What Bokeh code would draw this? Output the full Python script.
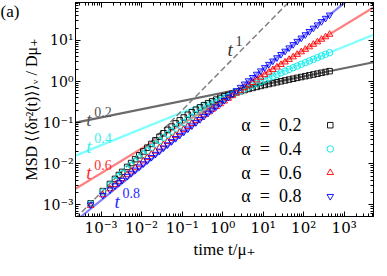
from bokeh.plotting import figure
from bokeh.models import FixedTicker, CustomJSTickFormatter, LogAxis, Label, Range1d
from bokeh.core.properties import value
from bokeh.embed import file_html
from bokeh.resources import INLINE

# ---- data ----
time = [5.5e-4, 1.1e-3, 1.65e-3, 2.2e-3, 2.75e-3, 3.3e-3, 4.4e-3,
        0.0055, 0.00692, 0.00872, 0.01097, 0.01382, 0.01739, 0.0219, 0.02757, 0.0347, 0.04369,
        0.055, 0.0692, 0.0872, 0.1097, 0.1382, 0.1739, 0.219, 0.2757, 0.347, 0.4369,
        0.55, 0.692, 0.872, 1.097, 1.382, 1.739, 2.19, 2.757, 3.47, 4.369,
        5.5, 6.92, 8.72, 10.97, 13.82, 17.39, 21.9, 27.57, 34.7, 43.69,
        55.0, 69.2, 87.2, 109.7, 138.2, 173.9, 219.0, 275.7, 347.0, 436.9]

msd_a02 = [1.09e-3, 2.16e-3, 3.22e-3, 4.28e-3, 5.32e-3, 6.34e-3, 8.38e-3,
           0.01038, 0.01294, 0.01607, 0.0199, 0.0246, 0.0303, 0.0372, 0.0454, 0.0552, 0.0668,
           0.0804, 0.0959, 0.1138, 0.1337, 0.156, 0.1795, 0.2065, 0.2355, 0.266, 0.298,
           0.330, 0.364, 0.399, 0.435, 0.471, 0.507, 0.545, 0.583, 0.622, 0.662,
           0.700, 0.741, 0.783, 0.826, 0.871, 0.916, 0.964, 1.014, 1.064, 1.117,
           1.172, 1.230, 1.291, 1.352, 1.419, 1.486, 1.557, 1.633, 1.710, 1.791]

msd_a04 = [1.047e-3, 2.05e-3, 3.01e-3, 3.95e-3, 4.86e-3, 5.75e-3, 7.50e-3,
           9.18e-3, 0.0113, 0.01384, 0.0169, 0.0206, 0.0249, 0.0301, 0.0363, 0.0436, 0.0519,
           0.0617, 0.0728, 0.0855, 0.1000, 0.1172, 0.1355, 0.1567, 0.1799, 0.2056, 0.2344,
           0.2661, 0.3013, 0.3396, 0.3828, 0.4295, 0.4797, 0.5358, 0.597, 0.6653, 0.7379,
           0.8166, 0.9036, 1.000, 1.104, 1.219, 1.346, 1.483, 1.633, 1.795, 1.977,
           2.173, 2.388, 2.624, 2.884, 3.170, 3.483, 3.819, 4.198, 4.603, 5.058]

msd_a06 = [9.6e-4, 1.74e-3, 2.44e-3, 3.08e-3, 3.71e-3, 4.31e-3, 5.49e-3,
           6.6e-3, 7.94e-3, 9.62e-3, 0.01161, 0.0140, 0.01683, 0.0201, 0.0242, 0.0289, 0.0344,
           0.0410, 0.0486, 0.0577, 0.0681, 0.0804, 0.0946, 0.1112, 0.1306, 0.1531, 0.1795,
           0.2099, 0.2449, 0.2858, 0.3334, 0.3873, 0.4508, 0.5236, 0.6081, 0.7047, 0.8166,
           0.9441, 1.091, 1.262, 1.459, 1.687, 1.945, 2.244, 2.588, 2.985, 3.436,
           3.963, 4.560, 5.260, 6.053, 6.966, 8.017, 9.226, 10.62, 12.19, 14.03]

msd_a08 = [1.005e-3, 1.714e-3, 2.339e-3, 2.917e-3, 3.467e-3, 3.99e-3, 4.977e-3,
           5.906e-3, 7.053e-3, 8.418e-3, 0.01005, 0.0120, 0.01432, 0.0171, 0.02041, 0.02436, 0.02909,
           0.03473, 0.04145, 0.04949, 0.05908, 0.07054, 0.0842, 0.1005, 0.1200, 0.1433, 0.1710,
           0.2042, 0.2437, 0.2910, 0.3483, 0.4188, 0.5035, 0.6053, 0.7278, 0.8750, 1.052,
           1.265, 1.521, 1.828, 2.198, 2.642, 3.177, 3.819, 4.592, 5.521, 6.637,
           7.980, 9.594, 11.53, 13.87, 16.67, 20.04, 24.10, 28.97, 34.83, 41.88]

alphas = [0.2, 0.4, 0.6, 0.8]
alpha_labels = ["0.2", "0.4", "0.6", "0.8"]
asym_coef = [0.532, 0.447, 0.372, 0.324]   # long-time power-law prefactors
ballistic_coef = 2.0                        # short-time line 2 t

x_ticks = [1e-3, 1e-2, 1e-1, 1e0, 1e1, 1e2, 1e3]
y_ticks = [1e-3, 1e-2, 1e-1, 1e0, 1e1]

XMIN, XMAX = 2.33e-4, 5.3e3
YMIN, YMAX = 5.2e-4, 84.0

FONT = "Liberation Serif, DejaVu Serif"
FRAME_W, FRAME_H = 298, 214

p = figure(frame_width=FRAME_W, frame_height=FRAME_H, x_axis_type="log", y_axis_type="log",
           x_range=Range1d(XMIN, XMAX), y_range=Range1d(YMIN, YMAX),
           output_backend="svg", toolbar_location=None,
           min_border_left=0, min_border_right=2, min_border_top=2, min_border_bottom=38)
p.grid.visible = False
p.outline_line_color = "black"
p.outline_line_width = 1
p.background_fill_color = "white"
p.border_fill_color = "white"

fmt = CustomJSTickFormatter(code="""
const e = Math.round(Math.log10(tick));
const sup = {'-':'\u207b','0':'\u2070','1':'\u00b9','2':'\u00b2','3':'\u00b3','4':'\u2074',
             '5':'\u2075','6':'\u2076','7':'\u2077','8':'\u2078','9':'\u2079'};
return '10' + String(e).split('').map(c => sup[c]).join('');
""")
blank = CustomJSTickFormatter(code="return '';")

x_minor = [m * 10.0**k for k in range(-4, 4) for m in range(2, 10)]
y_minor = [m * 10.0**k for k in range(-4, 2) for m in range(2, 10)]

def style(ax):
    ax.major_tick_in = 5
    ax.major_tick_out = 0
    ax.minor_tick_in = 3
    ax.minor_tick_out = 0
    ax.axis_line_color = "black"
    ax.major_tick_line_color = "black"
    ax.minor_tick_line_color = "black"
    ax.major_label_text_font = "DejaVu Serif"
    ax.major_label_text_font_size = "15px"
    ax.major_label_text_color = "black"
    ax.axis_label_text_font = FONT
    ax.axis_label_text_font_size = "17px"
    ax.axis_label_text_font_style = "normal"
    ax.axis_label_text_color = "black"

xax = p.xaxis[0]
xax.ticker = FixedTicker(ticks=x_ticks, minor_ticks=x_minor)
xax.formatter = fmt
xax.axis_label = "time t/\u03bc\u208a"
style(xax)
xax.major_label_standoff = 2
xax.axis_label_standoff = 0

yax = p.yaxis[0]
yax.ticker = FixedTicker(ticks=y_ticks, minor_ticks=y_minor)
yax.formatter = fmt
yax.axis_label = "MSD \u27e8\u27e8\u03b4r\u00b2(t)\u27e9\u27e9\u1d65 / D\u03bc\u208a"
style(yax)
yax.major_label_text_font_size = "14px"
yax.axis_label_text_font_size = "16px"
yax.major_label_standoff = 2
yax.axis_label_standoff = 0

top = LogAxis(ticker=FixedTicker(ticks=x_ticks, minor_ticks=x_minor), formatter=blank)
right = LogAxis(ticker=FixedTicker(ticks=y_ticks, minor_ticks=y_minor), formatter=blank)
for ax in (top, right):
    style(ax)
    ax.major_label_text_font_size = "0px"
    ax.major_label_standoff = 0
    ax.axis_label_standoff = 0
p.add_layout(top, "above")
p.add_layout(right, "right")

# ---- reference power-law lines ----
line_colors = ["#6a6a6a", "#80ffff", "#ff8080", "#8080ff"]
line_x = [XMIN, XMAX]
for a, c, col in zip(alphas, asym_coef, line_colors):
    p.line(line_x, [c * x**a for x in line_x], line_color=col, line_width=2.2)
p.line(line_x, [ballistic_coef * x for x in line_x], line_color="#808080",
       line_width=1.5, line_dash="6 3")

# ---- data markers ----
series = [msd_a02, msd_a04, msd_a06, msd_a08]
markers = ["square", "circle", "triangle", "inverted_triangle"]
mcolors = ["black", "#00e6e6", "red", "blue"]
msizes = [5.5, 6.5, 6.5, 6.5]
for ys, mk, col, sz in zip(series, markers, mcolors, msizes):
    p.scatter(time, ys, marker=mk, size=sz, fill_color=None, line_color=col, line_width=0.9)

# ---- line labels ----
lab_x = [4.3e-4, 4.3e-4, 4.3e-4, 2.13e-3, 1.32]
lab_y = [0.119, 0.0269, 6.07e-3, 1.23e-3, 6.1]
lab_exp = ["0.2", "0.4", "0.6", "0.8", "1"]
lab_col = ["#555555", "#3feeee", "#ff3030", "#2a2aff", "#333333"]
p.text(lab_x, lab_y, text=["t"] * 5, text_font=value(FONT), text_font_style="italic",
       text_font_size="19px", text_color=lab_col, text_baseline="alphabetic", text_align="left")
p.text(lab_x, lab_y, text=lab_exp, text_font=value(FONT), text_font_size="14px",
       text_color=lab_col, text_baseline="alphabetic", text_align="left",
       x_offset=8, y_offset=-8)

# ---- legend (text left, marker right) ----
leg_y = [0.0867, 0.0229, 6.07e-3, 1.61e-3]
leg_text_x = 2.9
leg_mark_x = 454.0
p.text([leg_text_x] * 4, leg_y, text=["\u03b1\u2002=\u2002" + s for s in alpha_labels],
       text_font=value(FONT), text_font_size="18px", text_color="black",
       text_baseline="middle", text_align="left")
for yv, mk, col, sz in zip(leg_y, markers, mcolors, msizes):
    p.scatter([leg_mark_x], [yv], marker=mk, size=sz, fill_color=None, line_color=col, line_width=0.9)

# panel tag "(a)" in the left side panel (not clipped by the frame)
p.add_layout(Label(x=0, y=FRAME_H + 1, x_units="screen", y_units="screen", text="(a)",
                   text_font=FONT, text_font_size="17px", text_baseline="top",
                   text_align="left", text_color="black"), "left")

open("out.html", "w").write(file_html(p, INLINE))
